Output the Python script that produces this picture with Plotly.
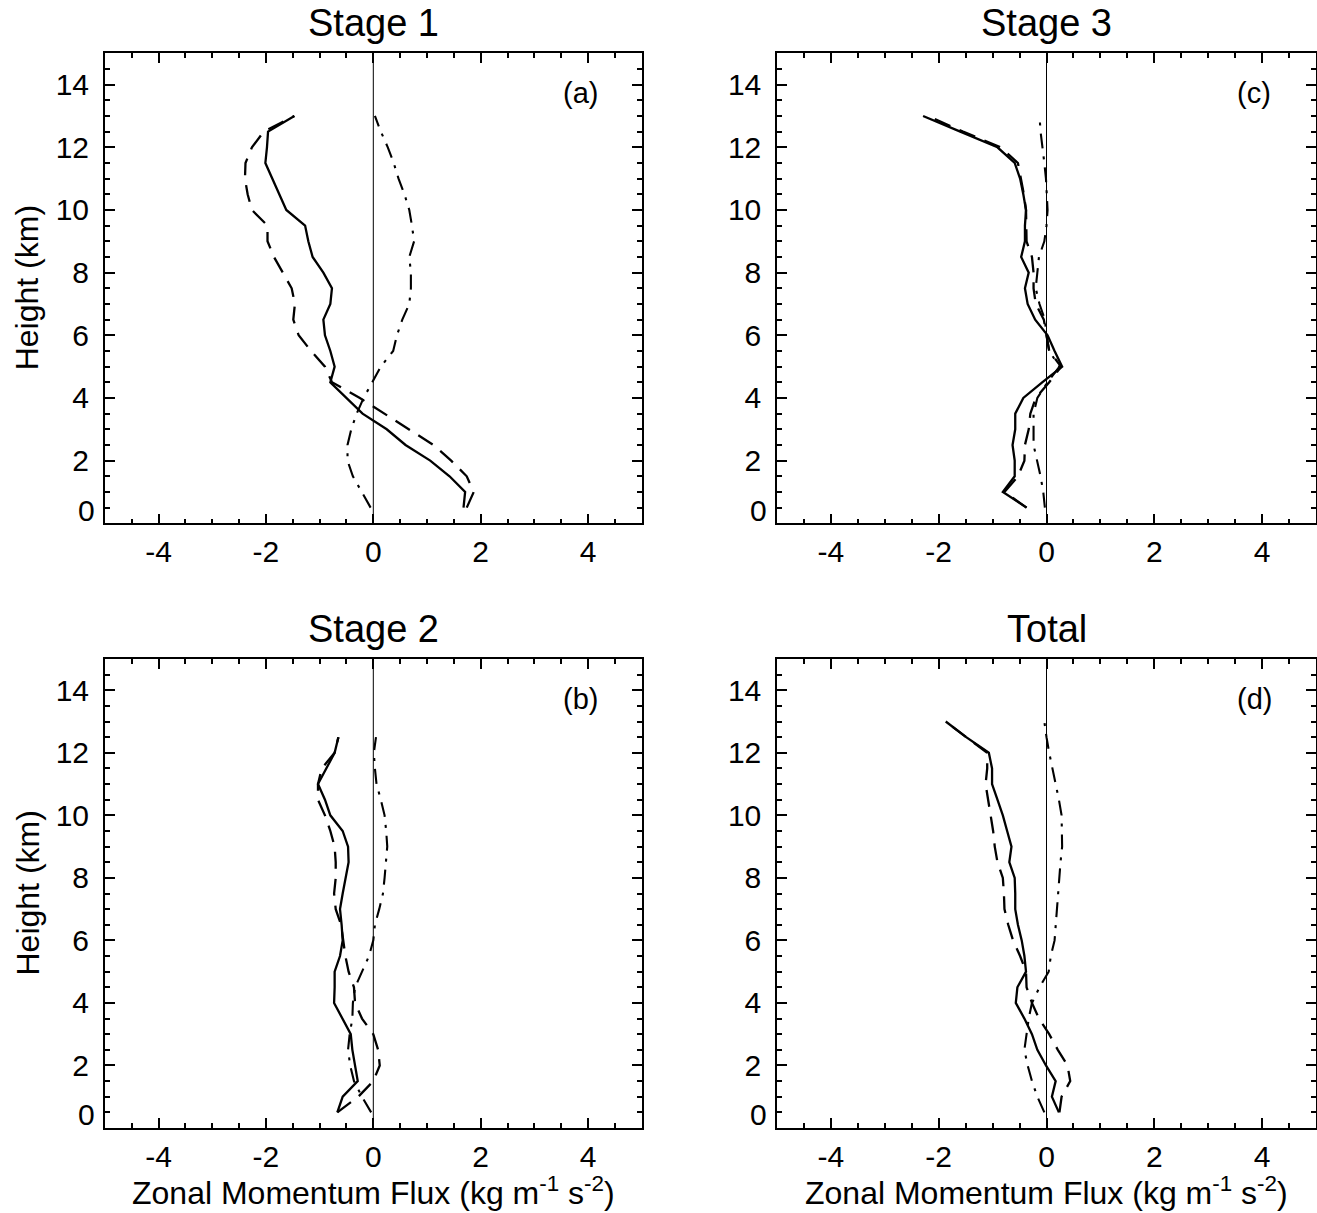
import plotly.graph_objects as go

# ---------------- data ----------------
heights = [0.5, 1.0, 1.5, 2.0, 2.5, 3.0, 3.5, 4.0, 4.5, 5.0, 5.5, 6.0, 6.5,
           7.0, 7.5, 8.0, 8.5, 9.0, 9.5, 10.0, 10.5, 11.0, 11.5, 12.0, 12.5, 13.0]
heights_b = heights[:-1]  # stage 2 profiles end at 12.5 km

# Stage 1 (a)
solid_a = [1.68, 1.71, 1.42, 1.06, 0.60, 0.25, -0.20, -0.50, -0.80, -0.72, -0.80, -0.90, -0.93,
           -0.80, -0.77, -0.93, -1.13, -1.21, -1.27, -1.62, -1.75, -1.88, -2.01, -1.98, -1.96, -1.47]
dashed_a = [1.74, 1.87, 1.74, 1.45, 1.12, 0.67, 0.21, -0.25, -0.77, -0.90, -1.16, -1.39, -1.49,
            -1.46, -1.52, -1.68, -1.85, -1.97, -1.97, -2.26, -2.34, -2.39, -2.38, -2.26, -2.04, -1.47]
dashdot_a = [-0.05, -0.22, -0.38, -0.48, -0.48, -0.41, -0.31, -0.18, -0.02, 0.14, 0.37, 0.44, 0.54,
             0.67, 0.70, 0.70, 0.67, 0.76, 0.72, 0.67, 0.58, 0.47, 0.38, 0.27, 0.14, 0.03]

# Stage 2 (b)
solid_b = [-0.67, -0.57, -0.29, -0.34, -0.39, -0.42, -0.57, -0.73, -0.72, -0.72, -0.62, -0.57, -0.59,
           -0.62, -0.57, -0.51, -0.46, -0.47, -0.57, -0.80, -0.90, -1.03, -0.88, -0.72, -0.65]
dashed_b = [-0.67, -0.28, 0.00, 0.12, 0.09, 0.00, -0.21, -0.34, -0.36, -0.46, -0.52, -0.56, -0.60,
            -0.70, -0.73, -0.70, -0.70, -0.72, -0.80, -0.90, -1.03, -1.03, -0.96, -0.72, -0.65]
dashdot_b = [-0.04, -0.21, -0.36, -0.43, -0.47, -0.44, -0.39, -0.38, -0.34, -0.21, -0.08, 0.00, 0.03,
             0.11, 0.18, 0.21, 0.24, 0.26, 0.24, 0.21, 0.14, 0.06, 0.03, 0.01, 0.05]

# Stage 3 (c)
solid_c = [-0.37, -0.81, -0.59, -0.59, -0.63, -0.58, -0.58, -0.43, -0.08, 0.29, 0.15, 0.02, -0.21,
           -0.35, -0.40, -0.33, -0.47, -0.40, -0.40, -0.38, -0.43, -0.49, -0.59, -0.91, -1.60, -2.29]
dashed_c = [-0.37, -0.78, -0.53, -0.41, -0.40, -0.33, -0.30, -0.20, 0.05, 0.27, 0.05, 0.00, -0.05,
            -0.20, -0.24, -0.24, -0.27, -0.37, -0.37, -0.38, -0.42, -0.47, -0.53, -0.85, -1.55, -2.20]
dashdot_c = [-0.03, -0.06, -0.11, -0.17, -0.24, -0.24, -0.24, -0.17, 0.02, 0.24, 0.05, 0.00, -0.03,
             -0.13, -0.20, -0.17, -0.14, -0.04, 0.00, 0.02, 0.01, -0.01, -0.04, -0.08, -0.11, -0.13]

# Total (d)
solid_d = [0.23, 0.10, 0.17, -0.01, -0.17, -0.27, -0.41, -0.57, -0.54, -0.38, -0.41, -0.46, -0.53,
           -0.58, -0.58, -0.59, -0.69, -0.65, -0.73, -0.81, -0.91, -1.01, -1.01, -1.07, -1.49, -1.87]
dashed_d = [0.24, 0.28, 0.44, 0.39, 0.21, 0.05, -0.14, -0.27, -0.37, -0.38, -0.49, -0.62, -0.71,
            -0.78, -0.79, -0.81, -0.91, -0.96, -0.99, -1.04, -1.09, -1.13, -1.10, -1.10, -1.49, -1.87]
dashdot_d = [-0.04, -0.17, -0.27, -0.35, -0.41, -0.37, -0.33, -0.27, -0.13, 0.04, 0.08, 0.15, 0.17,
             0.19, 0.21, 0.23, 0.26, 0.29, 0.29, 0.28, 0.23, 0.17, 0.10, 0.05, 0.00, -0.04]

panel_titles = ["Stage 1", "Stage 3", "Stage 2", "Total"]
panel_letters = ["(a)", "(c)", "(b)", "(d)"]
x_tick_vals = [-4, -2, 0, 2, 4]
x_tick_text = ["-4", "-2", "0", "2", "4"]
y_tick_vals = [2, 4, 6, 8, 10, 12, 14]
y_tick_text = ["2", "4", "6", "8", "10", "12", "14"]
zero_label = "0"
x_title = "Zonal Momentum Flux (kg m<sup>-1</sup> s<sup>-2</sup>)"
y_title = "Height (km)"

# ---------------- layout geometry ----------------
W, H = 1317, 1213
FONT = "Liberation Sans, Arial, Helvetica, sans-serif"
col_px = [(104.8, 641.8), (777.0, 1316.0)]
row_px = [(53.3, 523.3), (659.0, 1128.0)]

def xdom(c):
    a, b = col_px[c]
    return [a / W, b / W]

def ydom(r):
    a, b = row_px[r]
    return [1 - b / H, 1 - a / H]

panels = [
    # (col, row, heights, solid, dashed, dashdot)
    (0, 0, heights, solid_a, dashed_a, dashdot_a),
    (1, 0, heights, solid_c, dashed_c, dashdot_c),
    (0, 1, heights_b, solid_b, dashed_b, dashdot_b),
    (1, 1, heights, solid_d, dashed_d, dashdot_d),
]

fig = go.Figure()
annotations = []
shapes = []

for i, (c, r, hh, s, d, dd) in enumerate(panels):
    n = "" if i == 0 else str(i + 1)
    xa, ya = "x" + n, "y" + n
    for vals, dash, lw in ((s, "solid", 2.3), (d, "17px,10px", 2.3), (dd, "15px,8px,3px,8px", 2.1)):
        fig.add_trace(go.Scatter(x=vals, y=hh, mode="lines", xaxis=xa, yaxis=ya,
                                 line=dict(color="black", width=lw, dash=dash),
                                 showlegend=False, hoverinfo="skip"))
    axis_common = dict(showline=True, linecolor="black", linewidth=1.5, mirror="ticks",
                       ticks="inside", ticklen=10, tickwidth=1.5, tickcolor="black",
                       showgrid=False, zeroline=False,
                       tickfont=dict(family=FONT, size=30, color="black"))
    fig.layout["xaxis" + n] = dict(axis_common, domain=xdom(c), range=[-5, 5], anchor=ya,
                                   tickmode="array", tickvals=x_tick_vals, ticktext=x_tick_text,
                                   ticklabelstandoff=1,
                                   minor=dict(tickmode="linear", tick0=0, dtick=0.5, ticklen=5,
                                              tickwidth=1.5, tickcolor="black", ticks="inside"))
    fig.layout["yaxis" + n] = dict(axis_common, domain=ydom(r), range=[0, 15], anchor=xa,
                                   tickmode="array", tickvals=y_tick_vals, ticktext=y_tick_text,
                                   ticklabelstandoff=8,
                                   minor=dict(tickmode="linear", tick0=0, dtick=0.5, ticklen=5,
                                              tickwidth=1.5, tickcolor="black", ticks="inside"))
    # zero line
    shapes.append(dict(type="line", xref=xa, yref=ya + " domain", x0=0, x1=0, y0=0, y1=1,
                       line=dict(color="black", width=1)))
    # zero label on the y axis (drawn slightly above the bottom, as in the original)
    annotations.append(dict(text=zero_label, xref=xa + " domain", yref=ya, x=0, y=0.42,
                            xanchor="right", yanchor="middle", xshift=-8, showarrow=False,
                            font=dict(family=FONT, size=30, color="black")))
    # panel letter
    annotations.append(dict(text=panel_letters[i], xref=xa, yref=ya, x=3.85, y=13.73,
                            xanchor="center", yanchor="middle", showarrow=False,
                            font=dict(family=FONT, size=29, color="black")))
    # panel title
    xc = (col_px[c][0] + col_px[c][1]) / 2 / W
    ytop = row_px[r][0]
    annotations.append(dict(text=panel_titles[i], xref="paper", yref="paper", x=xc,
                            y=1 - (ytop - 30) / H, xanchor="center", yanchor="middle",
                            showarrow=False, font=dict(family=FONT, size=38, color="black")))
    if c == 0:
        yc = 1 - (row_px[r][0] + row_px[r][1]) / 2 / H
        annotations.append(dict(text=y_title, xref="paper", yref="paper", x=27 / W, y=yc,
                                xanchor="center", yanchor="middle", textangle=-90,
                                showarrow=False, font=dict(family=FONT, size=32, color="black")))
    if r == 1:
        annotations.append(dict(text=x_title, xref="paper", yref="paper", x=xc,
                                y=1 - 1191 / H, xanchor="center", yanchor="middle",
                                showarrow=False, font=dict(family=FONT, size=32, color="black")))

fig.update_layout(width=W, height=H, margin=dict(l=0, r=0, t=0, b=0),
                  paper_bgcolor="white", plot_bgcolor="white",
                  annotations=annotations, shapes=shapes, showlegend=False)

fig.write_html("out.html")
